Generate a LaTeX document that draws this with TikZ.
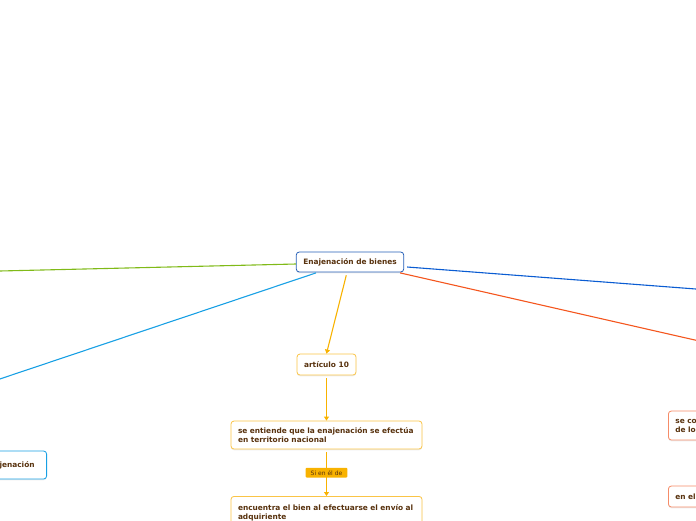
\documentclass[tikz,border=0pt]{standalone}
\usepackage{fontspec}
\setmainfont{DejaVu Sans}
\usepackage{tikz}
\usetikzlibrary{arrows.meta, positioning, shadows}
\definecolor{textbrown}{RGB}{88,50,14}
\definecolor{mapblue}{RGB}{38,96,184}
\definecolor{mapyellow}{RGB}{248,178,0}
\definecolor{boxyellow}{RGB}{250,196,70}
\definecolor{mapgreen}{RGB}{128,186,24}
\definecolor{lightblue}{RGB}{24,160,228}
\definecolor{darkblue}{RGB}{10,92,210}
\definecolor{maporange}{RGB}{244,86,30}
\definecolor{boxorange}{RGB}{246,140,104}
\tikzset{
x=1pt, y=-1pt, % pixel like coordinates, y grows downwards
>={Triangle[width=5pt,length=4pt]}, % small filled arrow heads
topic/.style={draw, fill=white, rounded corners=3pt, line width=0.8pt, text=textbrown, font=\fontsize{7.4}{9}\selectfont\bfseries, inner xsep=7pt, drop shadow={opacity=0.15, shadow xshift=0pt, shadow yshift=-1.3pt}}, % every box of the map
wide/.style={topic, text width=#1, align=left}, % boxes with two lines
branch/.style={line width=1.1pt}, % connectors
tag/.style={fill=mapyellow, text=textbrown, font=\fontsize{6}{7}\selectfont, inner xsep=5pt, inner ysep=2.5pt, rounded corners=1pt}, % label on a connector
}
\begin{document}
\hyphenpenalty=10000
\begin{tikzpicture}
        \useasboundingbox (0,0) rectangle (696,520);
        \clip (0,0) rectangle (696,520);

        \node[topic, draw=mapblue, minimum width=104pt, minimum height=20pt] (enajenacion) at (350,262) {Enajenación de bienes};
        \node[topic, draw=boxyellow, minimum width=59pt, minimum height=21pt] (articulo) at (326.5,364.5) {artículo 10};
        \node[wide=177pt, draw=boxyellow, minimum height=28pt] (territorio) at (326.5,435) {se entiende que la enajenación se efectúa\\en territorio nacional};
        \node[wide=177pt, draw=boxyellow, minimum height=32pt, anchor=north] (envio) at (326.5,496) {encuentra el bien al efectuarse el envío al\\adquiriente};
        \node[topic, draw=lightblue, minimum height=28pt, anchor=east, align=right, inner xsep=12pt] (izquierda) at (47,465) {Enajenación};
        \node[wide=150pt, draw=boxorange, minimum height=29pt, anchor=west] (derecha1) at (668,425.5) {se considera\\de los};
        \node[wide=150pt, draw=boxorange, minimum height=21pt, anchor=west] (derecha2) at (668,496.5) {en el};

        % free ends of the branches leaving the picture
        \coordinate (verde) at (-30,271.7);
        \coordinate (celeste) at (-30,389);
        \coordinate (azul) at (730,291.6);
        \coordinate (naranja) at (730,348);

        \draw[branch, mapgreen] (enajenacion.west) ++(0,2) -- (verde);
        \draw[branch, lightblue] (enajenacion.south) ++(-34,0.5) -- (celeste);
        \draw[branch, darkblue] (enajenacion.east) ++(3,5) -- (azul);
        \draw[branch, maporange] (enajenacion.south east) ++(-4,0.5) -- (naranja);
        \draw[branch, mapyellow, ->, shorten <=3pt] (enajenacion.south) ++(-3,0) -- (articulo.north);
        \draw[branch, mapyellow, ->, shorten <=3pt] (articulo) -- (territorio);
        \draw[branch, mapyellow, ->, shorten <=3pt] (territorio) -- node[tag]{Si en él de} (envio);
      \end{tikzpicture}
\end{document}
